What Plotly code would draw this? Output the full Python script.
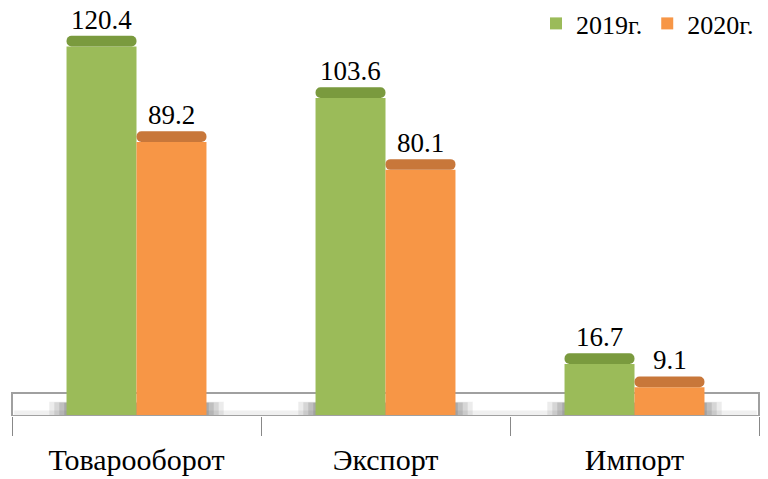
import plotly.graph_objects as go

categories = ["Товарооборот", "Экспорт", "Импорт"]
values_2019 = [120.4, 103.6, 16.7]
values_2020 = [89.2, 80.1, 9.1]
series_names = ["2019г.", "2020г."]

GREEN = "#9BBB59"
GREEN_CAP = "#7A9A3E"
ORANGE = "#F79646"
ORANGE_CAP = "#C8773A"
CAP = 3.5
FONT = "Liberation Serif, Times New Roman, serif"

fig = go.Figure()
annotations = []

for name, vals, col, capcol, og, shift in [
    (series_names[0], values_2019, GREEN, GREEN_CAP, "a", -35),
    (series_names[1], values_2020, ORANGE, ORANGE_CAP, "b", 35),
]:
    fig.add_trace(go.Bar(
        x=categories, y=vals, name=name, offsetgroup=og,
        marker=dict(color=col, line=dict(width=0)),
        showlegend=True,
    ))
    fig.add_trace(go.Bar(
        x=categories, y=[CAP] * len(vals), base=vals, offsetgroup=og,
        marker=dict(color=capcol, line=dict(width=0), cornerradius=5),
        showlegend=False, hoverinfo="skip",
    ))
    for c, v in zip(categories, vals):
        annotations.append(dict(x=c, y=v + CAP, xref="x", yref="y", text=f"{v:.1f}",
                                showarrow=False, xshift=shift, yanchor="bottom", yshift=-1,
                                font=dict(family=FONT, size=27, color="black")))

shapes = []
# floor slab
shapes.append(dict(type="rect", xref="paper", yref="y", x0=0, x1=1, y0=-0.33, y1=7.2,
                   fillcolor="#FFFFFF", line=dict(color="#A0A0A0", width=2), layer="below"))
shapes.append(dict(type="rect", xref="paper", yref="y", x0=0.003, x1=0.997, y0=0.0, y1=1.5,
                   fillcolor="#F0F0F0", line=dict(width=0), layer="below"))
# soft shadows behind bars
for i in range(len(categories)):
    for pad, top, op in [(0.0, 4.3, 0.12), (0.02, 4.2, 0.16), (0.04, 4.1, 0.2),
                         (0.06, 4.0, 0.24), (0.08, 3.9, 0.28)]:
        shapes.append(dict(type="rect", xref="x", yref="y",
                           x0=i - 0.35 + pad, x1=i + 0.35 - pad, y0=0, y1=top,
                           fillcolor=f"rgba(100,100,100,{op})", line=dict(width=0), layer="below"))

fig.update_layout(
    width=768, height=479,
    margin=dict(l=12, r=9, t=0, b=63, autoexpand=False),
    paper_bgcolor="white", plot_bgcolor="white",
    barmode="group", bargap=0.438, bargroupgap=0,
    font=dict(family=FONT, color="black"),
    shapes=shapes, annotations=annotations,
    legend=dict(orientation="h", x=1.0, xanchor="right", y=1.0, yanchor="top",
                font=dict(family=FONT, size=26, color="black"),
                bgcolor="rgba(0,0,0,0)", tracegroupgap=0),
    xaxis=dict(showline=False, showgrid=False, ticks="outside", ticklen=19, tickwidth=1,
               tickcolor="#888888", tickson="boundaries", automargin=False,
               tickfont=dict(family=FONT, size=30, color="black"), ticklabelstandoff=23),
    yaxis=dict(visible=False, range=[-0.33, 135.6], automargin=False),
)

fig.write_html("out.html", config={"displayModeBar": False},
               post_script="document.body.style.margin='0px';")
